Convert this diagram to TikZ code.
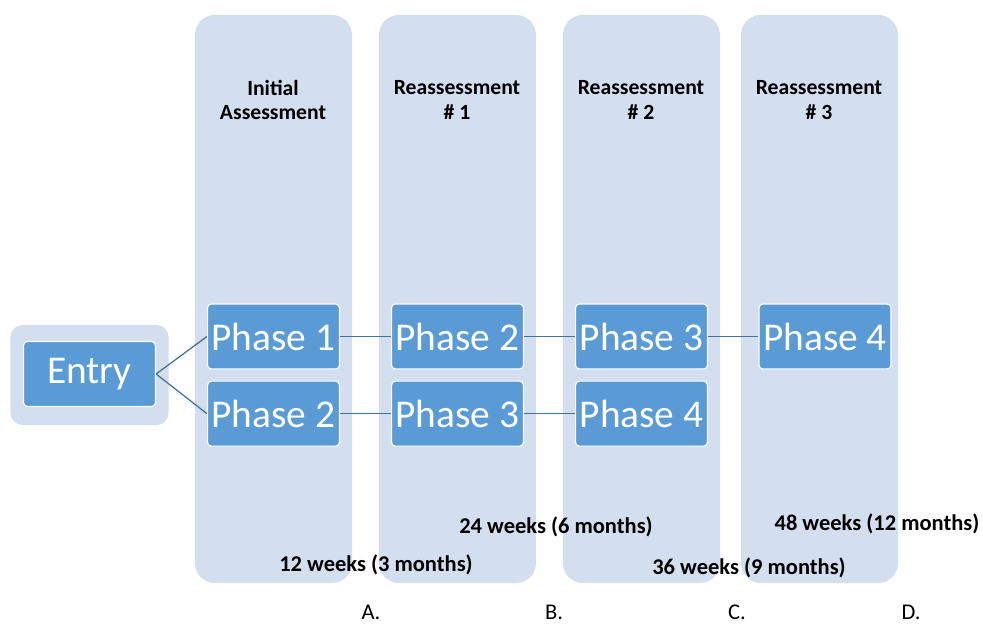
\documentclass[tikz,border=0pt]{standalone}
\usepackage{fontspec}
\setmainfont{Carlito}
\usetikzlibrary{positioning}
\definecolor{lanefill}{HTML}{D3DEEF}
\definecolor{phasefill}{HTML}{5B9BD5}
\definecolor{linkblue}{HTML}{41719C}
\tikzstyle{lane}=[fill=lanefill,rounded corners=0.5cm,minimum width=3.925cm,minimum height=14.2cm,inner sep=0pt]
\tikzstyle{phase}=[fill=phasefill,draw=white,line width=0.8pt,rounded corners=0.1cm,text=white,minimum width=3.3cm,minimum height=1.625cm,inner sep=0pt,font=\fontsize{28}{30}\selectfont]
\tikzstyle{head}=[align=center,font=\bfseries\fontsize{15.4}{17.5}\selectfont]
\tikzstyle{weeks}=[font=\bfseries\fontsize{16}{18}\selectfont]
\tikzstyle{tag}=[inner sep=0pt,anchor=base,font=\fontsize{16}{18}\selectfont]
\tikzstyle{link}=[draw=linkblue,line width=0.9pt]

\begin{document}
\begin{tikzpicture}[x=0.025cm,y=-0.025cm]
  \useasboundingbox (0,0) rectangle (983,626);

  % assessment lanes
  \node[lane] (lane1) at (273.5,299) {};
  \node[lane] (lane2) at (457.5,299) {};
  \node[lane] (lane3) at (641.5,299) {};
  \node[lane] (lane4) at (819.5,299) {};

  \node[head] (hinit) at (273,100) {Initial\\Assessment};
  \node[head] (hre1) at (457,100) {Reassessment\\\# 1};
  \node[head] (hre2) at (641,100) {Reassessment\\\# 2};
  \node[head] (hre3) at (819,100) {Reassessment\\\# 3};

  % entry point
  \node[fill=lanefill,rounded corners=0.3cm,minimum width=3.95cm,minimum height=2.5cm] (entrybg) at (89.5,375) {};
  \node[phase] (entry) at (89.5,374) {Entry};

  % phases, upper track
  \node[phase] (p1a) at (273.5,336.5) {Phase 1};
  \node[phase] (p2b) at (457.5,336.5) {Phase 2};
  \node[phase] (p3c) at (641.5,336.5) {Phase 3};
  \node[phase] (p4d) at (825,336.5) {Phase 4};

  % phases, lower track
  \node[phase,below=0.275cm of p1a] (p2a) {Phase 2};
  \node[phase,below=0.275cm of p2b] (p3b) {Phase 3};
  \node[phase,below=0.275cm of p3c] (p4c) {Phase 4};

  \draw[link] (entry.east) -- (p1a.west);
  \draw[link] (entry.east) -- (p2a.west);
  \draw[link] (p1a) -- (p2b) -- (p3c) -- (p4d);
  \draw[link] (p2a) -- (p3b) -- (p4c);

  % time marks
  \node[weeks] (w12) at (376,565) {12 weeks (3 months)};
  \node[weeks] (w24) at (556,527) {24 weeks (6 months)};
  \node[weeks] (w36) at (749,568) {36 weeks (9 months)};
  \node[weeks] (w48) at (877,524) {48 weeks (12 months)};

  \node[tag] (ta) at (371,619) {A.};
  \node[tag] (tb) at (554,619) {B.};
  \node[tag] (tc) at (737,619) {C.};
  \node[tag] (td) at (911,619) {D.};

\end{tikzpicture}
\end{document}
